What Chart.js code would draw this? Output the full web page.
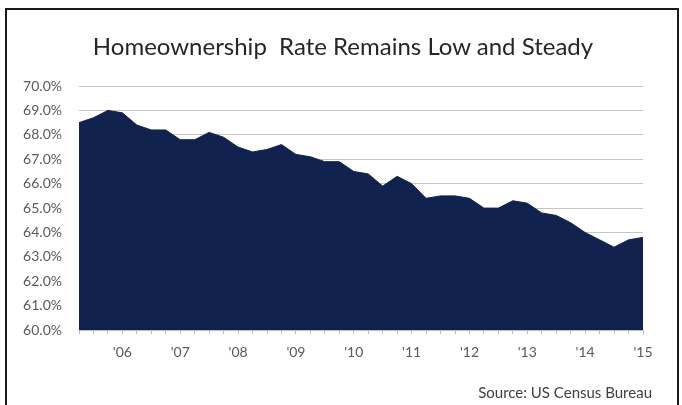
<!DOCTYPE html>
<html>
<head>
<meta charset="utf-8">
<script src="https://cdn.jsdelivr.net/npm/chart.js@4"></script>
<style>
  body { margin: 0; background: #fff; }
  #frame { position: absolute; left: 5px; top: 8px; width: 670px; height: 420px; border: 2px solid #1a1a1a; }
  #wrap { position: absolute; left: 0; top: 0; width: 682px; height: 405px; }
  #title { position: absolute; left: 43px; width: 600px; top: 31px; text-align: center; white-space: pre;
           font: 24px Lato, sans-serif; color: #262626; line-height: 30px; }
  #source { position: absolute; left: 0; width: 652px; top: 383px; text-align: right;
            font: 15px Lato, sans-serif; color: #404040; }
</style>
</head>
<body>
<div id="frame"></div>
<div id="wrap"><canvas id="chart" width="682" height="405"></canvas></div>
<div id="title">Homeownership  Rate Remains Low and Steady</div>
<div id="source">Source: US Census Bureau</div>
<script>
// quarterly homeownership rate, 2006 Q1 .. 2015 Q4
const years = ['06', '07', '08', '09', '10', '11', '12', '13', '14', '15'];
const quarters = [];
years.forEach(y => { for (let q = 1; q <= 4; q++) quarters.push('20' + y + ' Q' + q); });

const rates = [
    68.5, 68.7, 69.0, 68.9,
    68.4, 68.2, 68.2, 67.8,
    67.8, 68.1, 67.9, 67.5,
    67.3, 67.4, 67.6, 67.2,
    67.1, 66.9, 66.9, 66.5,
    66.4, 65.9, 66.3, 66.0,
    65.4, 65.5, 65.5, 65.4,
    65.0, 65.0, 65.3, 65.2,
    64.8, 64.7, 64.4, 64.0,
    63.7, 63.4, 63.7, 63.8
];

const fill = "#12224f";
const grey = "#595959";

const config = {
    type: 'line',
    data: {
        labels: quarters,
        datasets: [{
            data: rates,
            fill: 'start',
            backgroundColor: fill,
            borderColor: fill,
            borderWidth: 1,
            pointRadius: 0,
            tension: 0
        }]
    },
    options: {
        responsive: false,
        animation: false,
        layout: { padding: { left: 0, right: 39, top: 86, bottom: 34 } },
        plugins: {
            legend: { display: false },
            tooltip: { enabled: false }
        },
        scales: {
            x: {
                offset: false,
                border: { color: '#b4bfd6' },
                grid: { drawOnChartArea: false, drawTicks: true, tickLength: 4, color: '#b4bfd6' },
                ticks: {
                    autoSkip: false,
                    maxRotation: 0,
                    padding: 10,
                    color: grey,
                    font: { family: 'Lato', size: 14 },
                    callback: (v, i) => i % 4 === 3 ? "'" + years[(i - 3) / 4] : ''
                }
            },
            y: {
                min: 60,
                max: 70,
                border: { display: false },
                grid: { color: '#c4c4c4', drawTicks: false },
                afterFit: s => { s.width = 79; },
                ticks: {
                    stepSize: 1,
                    padding: 17,
                    color: grey,
                    font: { family: 'Lato', size: 14 },
                    callback: v => v.toFixed(1) + '%'
                }
            }
        }
    }
};

new Chart(document.getElementById('chart'), config);
</script>
</body>
</html>
